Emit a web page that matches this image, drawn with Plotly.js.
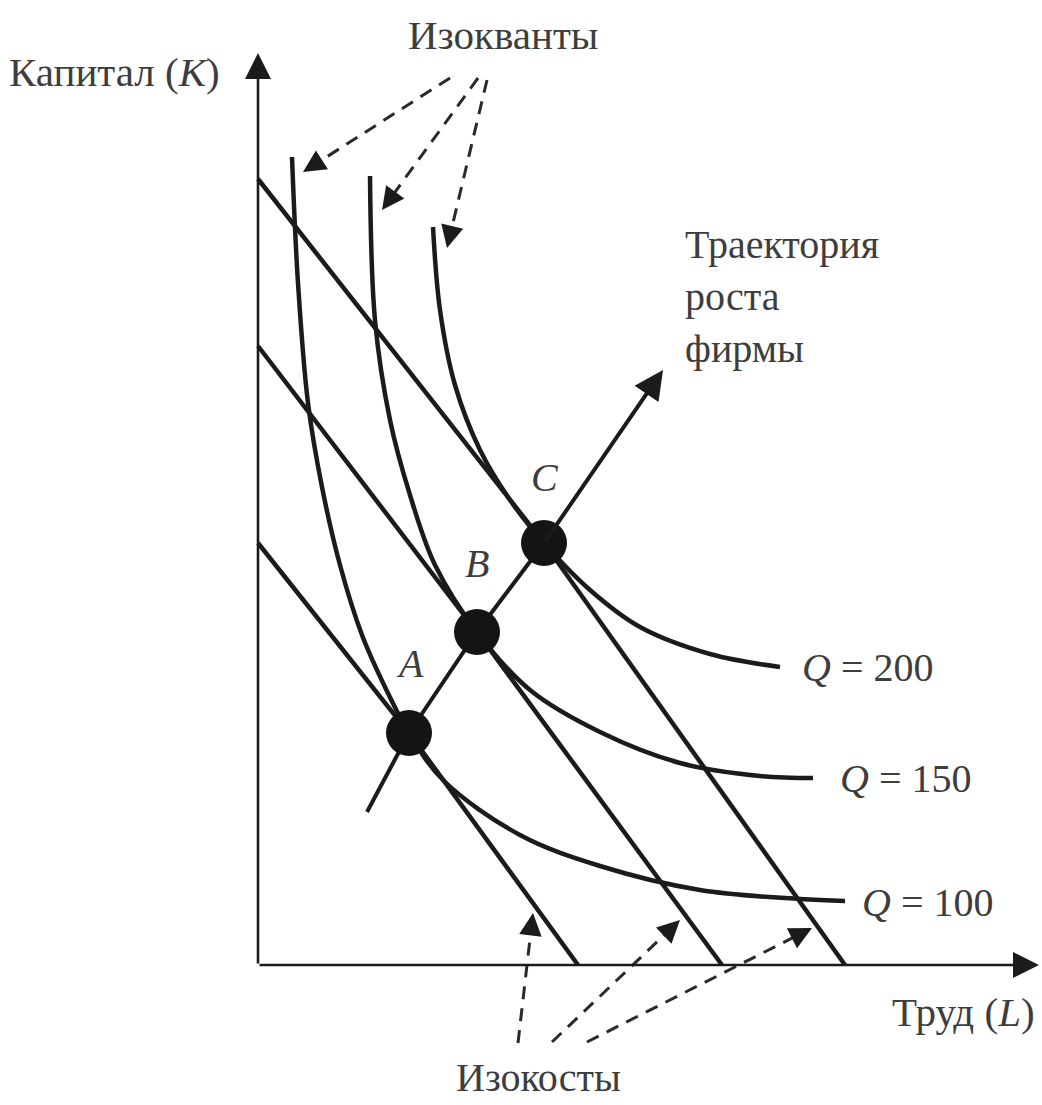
<!DOCTYPE html>
<html>
<head>
<meta charset="utf-8">
<script src="https://cdn.plot.ly/plotly-3.0.1.min.js"></script>
<style>html,body{margin:0;padding:0;background:#fff;}#chart{width:1042px;height:1105px;}</style>
</head>
<body>
<div id="chart"></div>
<script>
// Units: labour L and capital K, origin at the axes' intersection
// Isocost lines
const isocost1L = [0, 151, 320];
const isocost1K = [422, 232, 0];
const isocost2L = [0, 219, 464];
const isocost2K = [619, 333, 0];
const isocost3L = [0, 286, 587];
const isocost3K = [786, 422, 0];

// Isoquants
const q100L = [34, 40, 50, 64, 82, 104, 127, 151, 185, 262, 342, 442, 542, 587];
const q100K = [808, 682, 562, 478, 400, 330, 278, 232, 185, 130, 99, 75, 66, 64];
const q150L = [112, 117, 132, 152, 177, 219, 272, 342, 422, 502, 555];
const q150K = [789, 645, 545, 470, 400, 333, 275, 233, 202, 189, 187];
const q200L = [175, 182, 197, 222, 252, 286, 332, 382, 452, 522];
const q200K = [738, 655, 580, 515, 465, 422, 375, 338, 311, 298];

// Tangency points A, B, C
const pointNames = ['A', 'B', 'C'];
const pointL = [151, 219, 286];
const pointK = [232, 333, 422];
const pointLabelL = [152, 219, 287];
const pointLabelK = [302, 402, 488];

// Expansion path (start, through A,B,C, arrow tip)
const pathStartL = 109, pathStartK = 153;
const pathTipL = 405, pathTipK = 595;

// Axes
const axisXEndL = 781;
const axisYEndK = 912;

// Dashed pointer arrows: [startL, startK, tipL, tipK]
const isoquantPointers = [
  [192, 887, 45, 793],
  [220, 887, 124, 755],
  [229, 885, 189, 717]
];
const isocostPointers = [
  [260, -78, 275, 52],
  [294, -77, 422, 45],
  [329, -77, 554, 37]
];

// Text labels
const qLabels = ['<i>Q</i> = 200', '<i>Q</i> = 150', '<i>Q</i> = 100'];
const qLabelL = [542, 580, 602];
const qLabelK = [298, 187, 63];
const titleIsoquants = 'Изокванты';
const titleIsocosts = 'Изокосты';
const titleCapital = 'Капитал (<i>K</i>)';
const titleLabour = 'Труд (<i>L</i>)';
const titlePath = 'Траектория<br>роста<br>фирмы';

const INK = '#1b1b1b';
const TXT = '#3d3d3d';
const FONT = 'Liberation Serif, Times New Roman, serif';

const traces = [];
function curve(L, K, shape) {
  traces.push({x: L, y: K, mode: 'lines', type: 'scatter', hoverinfo: 'skip',
    line: {color: INK, width: 4.5, shape: shape || 'linear', smoothing: 1}});
}
curve(isocost1L, isocost1K);
curve(isocost2L, isocost2K);
curve(isocost3L, isocost3K);
curve(q100L, q100K, 'spline');
curve(q150L, q150K, 'spline');
curve(q200L, q200K, 'spline');

// expansion path body
traces.push({x: [pathStartL].concat(pointL), y: [pathStartK].concat(pointK), mode: 'lines',
  type: 'scatter', hoverinfo: 'skip', line: {color: INK, width: 4}});

const annotations = [];
function arrow(x, y, ax, ay, w, head, size) {
  annotations.push({x: x, y: y, ax: ax, ay: ay, xref: 'x', yref: 'y', axref: 'x', ayref: 'y',
    text: '', showarrow: true, arrowhead: head, arrowsize: size, arrowwidth: w,
    arrowcolor: INK, standoff: 0, startstandoff: 0});
}
// last segment of expansion path with arrow
arrow(pathTipL, pathTipK, pointL[2], pointK[2], 4, 2, 1.45);
// axes
arrow(axisXEndL, 0, 0, 0, 2.6, 2, 2.0);
arrow(0, axisYEndK, 0, 0, 2.6, 2, 2.0);

// dashed pointers
function pointer(p) {
  const dx = p[2] - p[0], dy = p[3] - p[1];
  const len = Math.sqrt(dx * dx + dy * dy);
  const bx = p[2] - dx / len * 16, by = p[3] - dy / len * 16;
  traces.push({x: [p[0], bx], y: [p[1], by], mode: 'lines', type: 'scatter', hoverinfo: 'skip',
    line: {color: '#2a2a2a', width: 3, dash: '13px,9px'}});
  arrow(p[2], p[3], bx, by, 3, 2, 1.5);
}
isoquantPointers.forEach(pointer);
isocostPointers.forEach(pointer);

// dots
traces.push({x: pointL, y: pointK, mode: 'markers', type: 'scatter', hoverinfo: 'skip',
  marker: {size: 46, color: '#141414'}});

function label(text, x, y, xa, ya, size, extra) {
  annotations.push(Object.assign({x: x, y: y, xref: 'x', yref: 'y', text: text, showarrow: false,
    xanchor: xa, yanchor: ya, font: {family: FONT, size: size, color: TXT}}, extra || {}));
}
pointNames.forEach((n, i) => label('<i>' + n + '</i>', pointLabelL[i], pointLabelK[i], 'center', 'middle', 40));
qLabels.forEach((t, i) => label(t, qLabelL[i], qLabelK[i], 'left', 'middle', 40));
label(titleIsoquants, 245, 930, 'center', 'middle', 41);
label(titleIsocosts, 280, -112, 'center', 'middle', 40);
label(titleCapital, -36, 893, 'right', 'middle', 41);
label(titleLabour, 779, -47, 'right', 'middle', 41);
label(titlePath, 425, 745, 'left', 'top', 40, {align: 'left'});

const layout = {
  width: 1042, height: 1105,
  margin: {l: 0, r: 0, t: 0, b: 0, pad: 0},
  paper_bgcolor: '#ffffff', plot_bgcolor: '#ffffff',
  showlegend: false,
  xaxis: {range: [-258, 784], visible: false, fixedrange: true},
  yaxis: {range: [-140, 965], visible: false, fixedrange: true},
  annotations: annotations
};
Plotly.newPlot('chart', traces, layout, {staticPlot: true, displayModeBar: false});
</script>
</body>
</html>
